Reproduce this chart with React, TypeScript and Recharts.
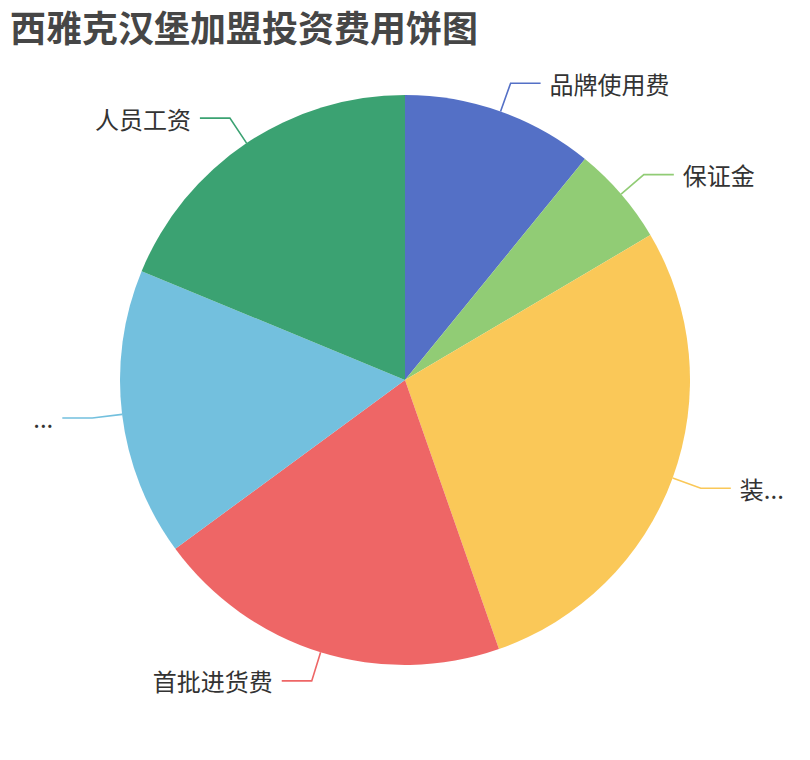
import { Cell, Pie, PieChart } from "recharts";

// 饼图数据（单位：万元，按图中扇区角度估读）
const NAMES = ["品牌使用费", "保证金", "装...", "首批进货费", "...", "人员工资"];
const VALUES = [5.8, 3, 15, 10.8, 8.7, 10];
const COLORS = ["#5470c6", "#91cc75", "#fac858", "#ee6666", "#73c0de", "#3ba272"];
const TITLE = "西雅克汉堡加盟投资费用饼图";

const data = NAMES.map((name, i) => ({ name, value: VALUES[i] }));

const RADIAN = Math.PI / 180;
const LEN1 = 30; // 引导线第一段
const LEN2 = 30; // 引导线水平段

function renderLabel(props: any) {
  const { cx, cy, midAngle, outerRadius, index, name } = props;
  const cos = Math.cos(-midAngle * RADIAN);
  const sin = Math.sin(-midAngle * RADIAN);
  const x1 = cx + outerRadius * cos;
  const y1 = cy + outerRadius * sin;
  const x2 = cx + (outerRadius + LEN1) * cos;
  const y2 = cy + (outerRadius + LEN1) * sin;
  const right = cos >= 0;
  const x3 = x2 + (right ? LEN2 : -LEN2);
  return (
    <g key={`label-${index}`}>
      <polyline
        points={`${x1},${y1} ${x2},${y2} ${x3},${y2}`}
        fill="none"
        stroke={COLORS[index]}
        strokeWidth={1.6}
      />
      <text
        x={x3 + (right ? 9 : -9)}
        y={y2}
        textAnchor={right ? "start" : "end"}
        dominantBaseline="central"
        fontSize={24}
        fill="#333"
      >
        {name}
      </text>
    </g>
  );
}

export default function App() {
  return (
    <div
      style={{
        position: "absolute",
        left: 0,
        top: 0,
        width: 810,
        height: 760,
        background: "#fff",
        fontFamily: '"Noto Sans CJK SC", "Noto Sans", sans-serif',
      }}
    >
      <div
        style={{
          position: "absolute",
          left: 10,
          top: 6,
          fontSize: 36,
          lineHeight: "40px",
          fontWeight: 700,
          color: "#464646",
          whiteSpace: "nowrap",
        }}
      >
        {TITLE}
      </div>
      <PieChart
        width={810}
        height={760}
        margin={{ top: 0, right: 0, bottom: 0, left: 0 }}
      >
        <Pie
          data={data}
          dataKey="value"
          nameKey="name"
          cx={405}
          cy={380}
          outerRadius={285}
          startAngle={90}
          endAngle={-270}
          stroke="none"
          label={renderLabel}
          labelLine={false}
          isAnimationActive={false}
        >
          {data.map((d, i) => (
            <Cell key={d.name + i} fill={COLORS[i]} />
          ))}
        </Pie>
      </PieChart>
    </div>
  );
}
